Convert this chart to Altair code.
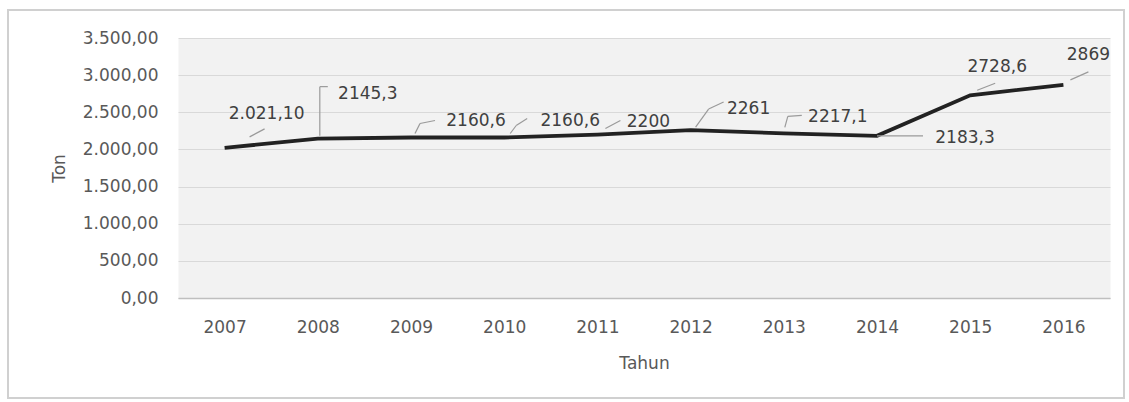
import altair as alt
import pandas as pd

# ---- data ----
years = [2007, 2008, 2009, 2010, 2011, 2012, 2013, 2014, 2015, 2016]
values = [2021.10, 2145.3, 2160.6, 2160.6, 2200, 2261, 2217.1, 2183.3, 2728.6, 2869]
labels = ["2.021,10", "2145,3", "2160,6", "2160,6", "2200", "2261", "2217,1", "2183,3", "2728,6", "2869"]
y_ticks = [0, 500, 1000, 1500, 2000, 2500, 3000, 3500]

# ---- annotation layout (pixel offsets from each point) ----
label_dx = [42, 50, 65, 66, 51, 58, 54, 88, 27, 25]
label_dy = [-34, -45, -16, -16, -13, -21, -16, 2, -28, -30]
leaders = [
    [(25, -11), (40, -19)],
    [(2, -3), (2, -52), (10, -52)],
    [(4, -4), (9, -14), (24, -17)],
    [(6, -4), (12, -12), (23, -19)],
    [(8, -6), (23, -14)],
    [(5, -3), (18, -21), (33, -28)],
    [(1, -6), (4, -17), (18, -18)],
    [(0, 0), (46, 0)],
    [(7, -5), (25, -12)],
    [(7, -5), (25, -13)],
]

W, H = 932, 260
X_DOMAIN = [2006.5, 2016.5]
Y_DOMAIN = [0, 3500]
PX_X = W / (X_DOMAIN[1] - X_DOMAIN[0])
PX_Y = H / (Y_DOMAIN[1] - Y_DOMAIN[0])

FONT = "DejaVu Sans"
TXT = "#595959"
FS = 17

df = pd.DataFrame({"Tahun": years, "Ton": values, "label": labels})
df["lx"] = [y + dx / PX_X for y, dx in zip(years, label_dx)]
df["ly"] = [v - dy / PX_Y for v, dy in zip(values, label_dy)]

rows = []
for yr, v, poly in zip(years, values, leaders):
    for (ax, ay), (bx, by) in zip(poly[:-1], poly[1:]):
        rows.append({
            "x": yr + ax / PX_X, "y": v - ay / PX_Y,
            "x2": yr + bx / PX_X, "y2": v - by / PX_Y,
        })
lead_df = pd.DataFrame(rows)

xs = alt.Scale(domain=X_DOMAIN, nice=False, zero=False)
ys = alt.Scale(domain=Y_DOMAIN, nice=False)

x_axis = alt.Axis(values=years, format="d", ticks=False, grid=False,
                  domainColor="#bfbfbf", domainWidth=1.5, labelOverlap=False,
                  labelPadding=21, labelFontSize=FS, labelColor=TXT,
                  labelFont=FONT, title="Tahun", titleFont=FONT,
                  titleFontSize=FS, titleColor=TXT, titleFontWeight="normal",
                  titlePadding=20)
y_axis = alt.Axis(values=y_ticks, ticks=False, domain=False, labelOverlap=False,
                  gridColor="#d9d9d9", gridWidth=1.2,
                  labelExpr="replace(replace(replace(format(datum.value, ',.2f'), ',', '#'), '.', ','), '#', '.')",
                  labelPadding=20, labelFontSize=FS, labelColor=TXT,
                  labelFont=FONT, title="Ton", titleFont=FONT,
                  titleFontSize=FS, titleColor=TXT, titleFontWeight="normal",
                  titlePadding=14)

base = alt.Chart(df)

line = base.mark_line(color="#222222", strokeWidth=3.8).encode(
    x=alt.X("Tahun:Q", scale=xs, axis=x_axis),
    y=alt.Y("Ton:Q", scale=ys, axis=y_axis),
)

lead = alt.Chart(lead_df).mark_rule(color="#9a9a9a", strokeWidth=1.2).encode(
    x=alt.X("x:Q", scale=xs, axis=x_axis), y=alt.Y("y:Q", scale=ys, axis=y_axis),
    x2="x2:Q", y2="y2:Q",
)

text = base.mark_text(font=FONT, fontSize=FS, color="#404040", align="center",
                      baseline="middle").encode(
    x=alt.X("lx:Q", scale=xs, axis=x_axis), y=alt.Y("ly:Q", scale=ys, axis=y_axis),
    text="label:N",
)

frame = alt.Chart(df).mark_rect(fillOpacity=0, stroke="#d0d0d0", strokeWidth=1.5).encode(
    x=alt.value(-170), x2=alt.value(946), y=alt.value(-28), y2=alt.value(360)
)

chart = alt.layer(frame, line, lead, text).properties(
    width=W, height=H,
    autosize=alt.AutoSizeParams(type="none"),
    padding={"left": 178, "top": 38, "right": 19, "bottom": 104},
    background="white",
).configure_view(fill="#f2f2f2", stroke="transparent")

chart.save("out.html", embed_options={"renderer": "svg", "actions": False})
